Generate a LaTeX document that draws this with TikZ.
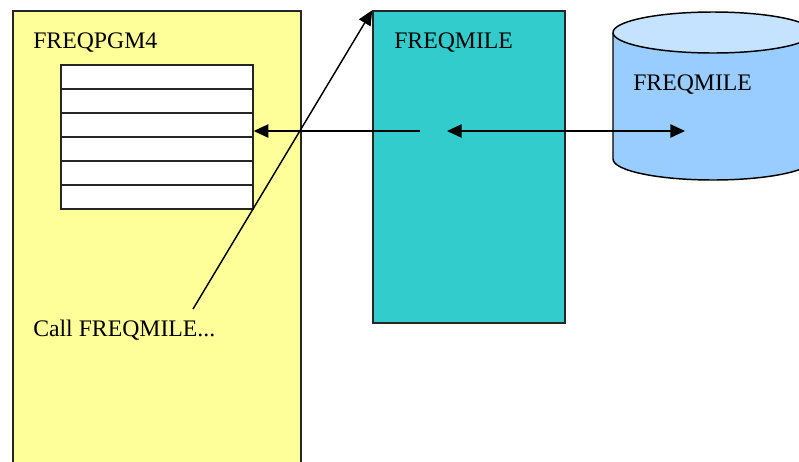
\documentclass[tikz,border=0pt]{standalone}
\usepackage{fontspec}
\setmainfont{Liberation Serif}
\usetikzlibrary{arrows.meta}
\definecolor{pgmyellow}{RGB}{255,255,153}
\definecolor{modcyan}{RGB}{51,204,204}
\definecolor{dbblue}{RGB}{153,204,255}
\definecolor{dbtop}{RGB}{197,226,255}
\begin{document}
\begin{tikzpicture}[x=0.75pt, y=-0.75pt,
  >={Triangle[length=11pt, width=10pt]},
  lbl/.style={font=\fontsize{17.8}{20}\selectfont, anchor=base west, inner sep=0pt},
  box/.style={draw=black!85, line width=1.1pt, inner sep=0pt},
  row/.style={box, fill=white, minimum width=144pt, minimum height=18pt},
  link/.style={line width=1.1pt}]
\useasboundingbox (0,0) rectangle (799,461);
\clip (0,0) rectangle (799,461);
  % calling program with its table
  \node[box, fill=pgmyellow, minimum width=216pt, minimum height=352pt] (pgm) at (157,245.5) {};
  \node[lbl] (pgmname) at (33,48) {FREQPGM4};
  \foreach \i in {0,...,5}
    \node[row] (row\i) at (157,77+24*\i) {};
  \node[lbl] (call) at (33,336) {Call FREQMILE...};
  % called module
  \node[box, fill=modcyan, minimum width=144pt, minimum height=234pt] (mod) at (469,167) {};
  \node[lbl] (modname) at (394,48) {FREQMILE};
  % file
  \fill[dbblue] (613,32.5) rectangle (813,159);
  \fill[dbblue] (713,159) ellipse [x radius=100, y radius=21];
  \draw[link] (613,32.5) -- (613,159) arc [start angle=180, end angle=0, x radius=100, y radius=21] -- (813,32.5);
  \draw[link, fill=dbtop] (713,32.5) ellipse [x radius=100, y radius=20.5];
  \node[lbl] (dbname) at (633,90) {FREQMILE};
  % connectors
  \coordinate (callpt) at (193,309);
  \coordinate (modin) at (420,131);
  \coordinate (modio) at (447,131);
  \coordinate (dbio) at (685,131);
  \draw[link, ->] (modin) -- (modin -| row2.east);
  \draw[link, ->] (callpt) -- (mod.north west);
  \draw[link, <->] (modio) -- (dbio);
\end{tikzpicture}
\end{document}
